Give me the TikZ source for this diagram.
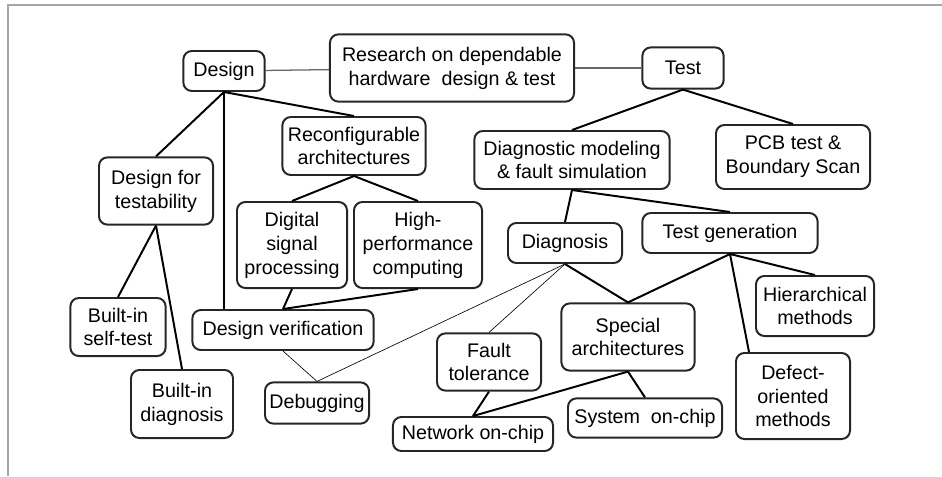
\documentclass[tikz,border=0pt]{standalone}
\usepackage{fontspec}
\setmainfont{Liberation Sans}
\usepackage{tikz}
\usetikzlibrary{positioning}
\usepackage{xcolor}

\begin{document}
\begin{tikzpicture}[
  x=0.025cm, y=-0.025cm,
  box/.style={rectangle, rounded corners=6pt, draw=black!85, line width=1.4pt,
              align=center, inner sep=1pt, font=\fontsize{14}{17}\selectfont},
  wh/.style 2 args={minimum width=#1cm, minimum height=#2cm},
  link/.style={line width=1.4pt, draw=black},
  plain/.style={line width=0.9pt, draw=black!60},
  hair/.style={line width=0.45pt, draw=black},
]
\useasboundingbox (0,0) rectangle (942,476);
%% frame
\draw[black!35, line width=1.5pt] (8,476) -- (8,5) -- (942,5);

%% top level
\node[box, wh={6.1}{1.68}] (root) at (452,68) {Research on dependable\\hardware\ \ design \& test};
\node[box, wh={2.03}{1.0}] (design) at (224,71) {Design};
\node[box, wh={2.03}{1.03}] (test) at (683,68) {Test};

%% design side
\node[box, wh={3.58}{1.45}] (reconf)  at (354,146) {Reconfigurable\\architectures};
\node[box, wh={2.85}{1.68}] (dft)     at (156,191) {Design for\\testability};
\node[box, wh={2.75}{2.15}] (dsp)     at (292,245) {Digital\\signal\\processing};
\node[box, wh={3.2}{2.15}]  (hpc)     at (418,245) {High-\\performance\\computing};
\node[box, wh={2.38}{1.45}] (bist)    at (118,327) {Built-in\\self-test};
\node[box, wh={4.53}{1.0}]  (verif)   at (283,330) {Design verification};
\node[box, wh={2.55}{1.7}]  (bidiag)  at (182,404) {Built-in\\diagnosis};
\node[box, wh={2.6}{1.03}]  (debug)   at (317,403) {Debugging};

%% test side
\node[box, wh={4.88}{1.45}] (model)   at (572,160) {Diagnostic modeling\\\& fault simulation};
\node[box, wh={3.85}{1.6}]  (pcb)     at (793,157) {PCB test \&\\Boundary Scan};
\node[box, wh={2.85}{1.0}]  (diag)    at (565,243) {Diagnosis};
\node[box, wh={4.38}{1.0}]  (tgen)    at (730,233) {Test generation};
\node[box, wh={2.6}{1.43}]  (fault)   at (489,362) {Fault\\tolerance};
\node[box, wh={3.33}{1.68}] (special) at (628,337) {Special\\architectures};
\node[box, wh={2.95}{1.5}]  (hier)    at (815,306) {Hierarchical\\methods};
\node[box, wh={4.0}{0.85}]  (noc)     at (473,434) {Network on-chip};
\node[box, wh={3.85}{0.98}] (soc)     at (645,418) {System\ \ on-chip};
\node[box, wh={2.85}{2.15}] (defect)  at (793,396) {Defect-\\oriented\\methods};

%% root links
\draw[plain] (design) -- (root);
\draw[plain] (root) -- (test);

%% design tree
\draw[link] (design.south) -- (dft.north);
\draw[link] (design.south) -- (verif.north -| design.south);
\draw[link] (design.south) -- (reconf.north);
\draw[link] (reconf.south) -- (dsp.north);
\draw[link] (reconf.south) -- (hpc.north);
\draw[link] (dsp.south) -- (verif.north);
\draw[link] (hpc.south) -- (verif.north);
\draw[link] (dft.south) -- (bist.north);
\draw[link] (dft.south) -- (bidiag.north);
\draw[hair] (verif.south) -- (debug.north);

%% test tree
\draw[link] (test.south) -- (model.north);
\draw[link] (test.south) -- (pcb.north);
\draw[link] (model.south) -- (diag.north);
\draw[link] (model.south) -- (tgen.north);
\draw[hair] (diag.south) -- (debug.north);
\draw[hair] (diag.south) -- (fault.north);
\draw[link] (diag.south) -- (special.north);
\draw[link] (tgen.south) -- (special.north);
\draw[link] (tgen.south) -- (hier.north);
\draw[link] (tgen.south) -- (defect.135);
\draw[link] (fault.south) -- (noc.north);
\draw[link] (special.south) -- (noc.north);
\draw[link] (special.south) -- (soc.north);
\end{tikzpicture}
\end{document}
